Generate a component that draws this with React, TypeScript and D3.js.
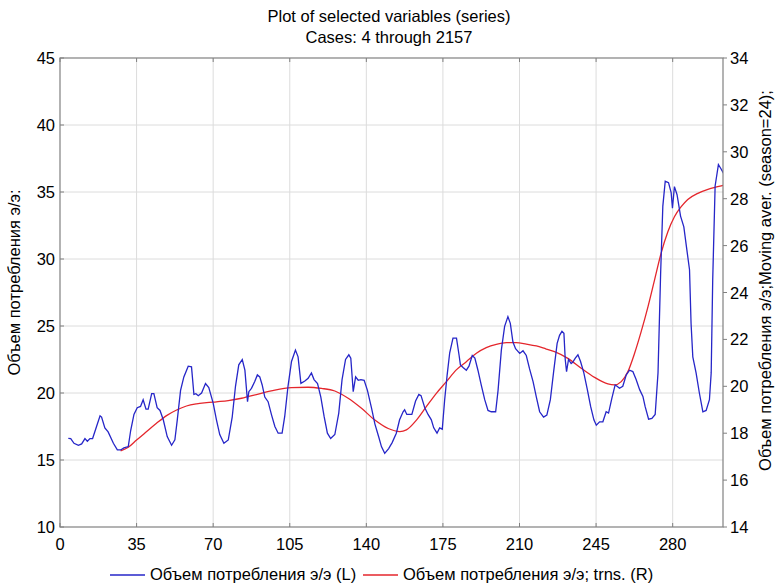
import React from "react";
import * as d3 from "d3";

const titleLines = ["Plot of selected variables (series)", "Cases: 4 through 2157"];
const leftLabel = "Объем потребления э/э:";
const rightLabel = "Объем потребления э/э;Moving aver. (season=24);";
const legendLabels = ["Объем потребления э/э (L)", "Объем потребления э/э; trns. (R)"];

const xTicks = [0, 35, 70, 105, 140, 175, 210, 245, 280];
const leftTicks = [10, 15, 20, 25, 30, 35, 40, 45];
const rightTicks = [14, 16, 18, 20, 22, 24, 26, 28, 30, 32, 34];

const blueCase = [3.8,4.9,6.4,8.4,9.9,11.4,12.5,13.7,14.9,16.7,18.3,19,20.5,22,24.4,26.2,27.7,29.2,31.2,32.3,33.8,35.3,36.8,38,39.3,40.3,41.9,42.9,44.4,45.7,47.2,49,51,52.5,53.6,55.1,56.6,58.6,60.1,61.2,62.1,63.2,64.7,66.5,68,70,71.5,73,74.9,76.9,78.7,80.2,81.7,83.3,84.5,85.7,86.3,87.5,89,90.2,91.3,92.4,93.6,95.1,96.7,98.2,99.7,101.5,102.7,104.2,105.8,107.6,108.8,110.1,111.9,113.4,114.9,116.1,117.7,119.2,120.7,122.2,123.7,125.6,127.4,128.9,130.5,132,132.9,134,135.1,136.3,137.5,139,140.5,142.4,143.9,145.7,146.9,148.4,150.2,151.8,153.7,155.2,156.8,157.5,158.5,160.8,162.5,164,165,166.7,168.2,169.7,170.8,172.3,173.5,174.7,175.8,176.9,178.1,179.6,181.2,182.4,183,184.2,185.7,186.9,188.4,189.6,191,192.5,194.1,195.6,197.1,199.1,200.2,201.7,203.2,204.7,205.8,207,208.2,210.1,211.6,213.1,214.6,216.2,217.7,219.2,221,222.5,224.1,225.6,227.2,228.3,229.4,230.3,230.9,231.5,232.4,233.6,234.4,235.5,236.7,237.9,239.4,241,242.5,244,245.1,246.6,248.1,249.6,250.7,252.2,253.7,254.6,255.7,257.2,258.8,260.3,261.8,263.3,264.9,266.4,267.4,269,270.5,272,273.3,274.5,275.5,276.6,278.1,279.3,279.9,280.8,282,283.6,285.1,286.3,287.7,288.4,289.2,290.7,292.2,293.8,295.3,296.8,297.6,298.3,299.4,300.9,302.2,303.2];
const blueValue = [16.62,16.6,16.25,16.1,16.2,16.6,16.4,16.6,16.6,17.5,18.3,18.2,17.4,17.1,16.25,15.75,15.75,15.9,16.0,17.2,18.4,18.9,19.0,19.5,18.8,18.8,19.95,19.95,18.9,18.7,18.0,16.75,16.1,16.5,18.0,20.2,21.2,22.0,21.95,19.9,19.95,19.8,20.0,20.7,20.4,19.25,18.0,16.9,16.25,16.5,18.2,20.5,22.1,22.5,21.7,19.35,20.1,20.35,20.85,21.35,21.2,20.6,19.7,19.35,18.35,17.5,17.0,17.0,18.25,20.5,22.35,23.2,22.7,20.72,20.9,21.1,21.5,21.0,20.7,19.7,18.25,17.0,16.6,16.9,18.5,21.0,22.5,22.85,22.6,20.1,21.2,20.95,21.0,20.95,20.2,18.85,17.7,16.7,16.0,15.5,15.85,16.3,17.0,18.0,18.6,18.75,18.4,18.4,19.4,19.9,19.8,18.9,18.4,18.0,17.4,17.0,17.4,17.3,19.5,21.3,23.0,24.1,24.1,22.8,22.1,21.9,21.7,22.0,22.8,22.6,21.7,20.6,19.5,18.7,18.6,18.6,20.2,23.2,24.97,25.7,25.2,23.8,23.3,22.95,23.15,22.8,21.8,20.85,19.7,18.6,18.2,18.35,19.5,21.6,23.7,24.3,24.6,24.45,22.5,21.6,22.5,22.2,22.3,22.6,22.85,22.35,21.5,20.25,19.0,18.0,17.6,17.85,17.85,18.6,18.5,19.6,20.6,20.5,20.35,20.5,21.35,21.7,21.6,21.0,20.25,19.75,19.0,18.05,18.1,18.4,21.5,28.95,33.95,35.8,35.7,34.95,33.8,35.4,34.8,33.2,32.4,30.9,29.2,25.2,22.7,21.5,20.0,18.6,18.7,19.5,21.5,28.45,35.45,37.05,36.7,36.4];

const redCase = [27.7,31.2,35,39.6,44.1,48.7,53.3,57.8,62.4,67,71.5,76.9,83,90.6,98.2,105.8,113.4,119.5,125.6,131.7,137.8,143.9,150,155.3,158.3,162.9,167.4,172,176.6,181.1,185.7,190.3,194.8,199.4,204,208.5,213.1,217.7,222.2,226,232.1,238.2,244.3,250.4,253.4,256.5,259.5,262.6,265.6,268.7,271.7,274.7,277.8,280.8,283.9,286.9,291.5,296.1,300.6,303.2];
const redValue = [17.25,17.4,17.71,18.07,18.42,18.75,18.99,19.16,19.25,19.3,19.34,19.39,19.49,19.67,19.84,19.94,19.96,19.91,19.8,19.49,19.06,18.56,18.2,18.07,18.14,18.56,19.13,19.7,20.2,20.7,21.05,21.41,21.65,21.79,21.86,21.86,21.8,21.72,21.59,21.48,21.19,20.77,20.38,20.1,20.06,20.2,20.62,21.41,22.33,23.39,24.53,25.67,26.59,27.23,27.66,27.97,28.23,28.4,28.51,28.57];

const W = 778, H = 585;
const L = 60, R = 723, T = 58, B = 527;
const FONT = "'Liberation Sans', Arial, sans-serif";
const FS = 16.5;
const BLUE = "#2626c8";
const RED = "#e4262c";
const GRID = "#dcdcdc";
const FRAME = "#808080";

export default function App() {
  const x = d3.scaleLinear().domain([0, 303]).range([L, R]);
  const yL = d3.scaleLinear().domain([10, 45]).range([B, T]);
  const yR = d3.scaleLinear().domain([14, 34]).range([B, T]);

  const blueLine = d3.line<number>().x((d, i) => x(blueCase[i])).y((d) => yL(d)).curve(d3.curveLinear);
  const redLine = d3.line<number>().x((d, i) => x(redCase[i])).y((d) => yR(d)).curve(d3.curveMonotoneX);

  return (
    <svg width={W} height={H} style={{ position: "absolute", left: 0, top: 0, background: "#fff" }} fontFamily={FONT}>
      <rect x={0} y={0} width={W} height={H} fill="#fff" />
      <defs>
        <clipPath id="plot">
          <rect x={L} y={T} width={R - L} height={B - T} />
        </clipPath>
      </defs>
      {titleLines.map((t, i) => (
        <text key={t} x={389} y={22 + i * 21} textAnchor="middle" fontSize={FS} fill="#000">{t}</text>
      ))}
      {xTicks.slice(1).map((v) => (
        <line key={"gx" + v} x1={x(v)} x2={x(v)} y1={T} y2={B} stroke={GRID} strokeWidth={1} />
      ))}
      {leftTicks.slice(1, -1).map((v) => (
        <line key={"gy" + v} x1={L} x2={R} y1={yL(v)} y2={yL(v)} stroke={GRID} strokeWidth={1} />
      ))}
      <g clipPath="url(#plot)">
        <path d={redLine(redValue) || ""} fill="none" stroke={RED} strokeWidth={1.3} />
        <path d={blueLine(blueValue) || ""} fill="none" stroke={BLUE} strokeWidth={1.3} />
      </g>
      <rect x={L} y={T} width={R - L} height={B - T} fill="none" stroke={FRAME} strokeWidth={1.2} />
      {xTicks.map((v) => (
        <g key={"xt" + v}>
          <line x1={x(v)} x2={x(v)} y1={B} y2={B - 4} stroke={FRAME} />
          <line x1={x(v)} x2={x(v)} y1={T} y2={T + 4} stroke={FRAME} />
          <text x={x(v)} y={B + 23} textAnchor="middle" fontSize={FS} fill="#000">{v}</text>
        </g>
      ))}
      {leftTicks.map((v) => (
        <g key={"lt" + v}>
          <line x1={L} x2={L + 4} y1={yL(v)} y2={yL(v)} stroke={FRAME} />
          <text x={55} y={yL(v) + 6} textAnchor="end" fontSize={FS} fill="#000">{v}</text>
        </g>
      ))}
      {rightTicks.map((v) => (
        <g key={"rt" + v}>
          <line x1={R} x2={R + 4} y1={yR(v)} y2={yR(v)} stroke={FRAME} />
          <text x={730} y={yR(v) + 6} textAnchor="start" fontSize={FS} fill="#000">{v}</text>
        </g>
      ))}
      <text transform={`translate(20,${(T + B) / 2 - 10}) rotate(-90)`} textAnchor="middle" fontSize={FS} fill="#000">{leftLabel}</text>
      <text transform={`translate(771,${(T + B) / 2 - 12}) rotate(-90)`} textAnchor="middle" fontSize={FS} fill="#000">{rightLabel}</text>
      <line x1={110} x2={145} y1={575} y2={575} stroke={BLUE} strokeWidth={1.3} />
      <text x={150} y={580} fontSize={FS} fill="#000">{legendLabels[0]}</text>
      <line x1={363} x2={398} y1={575} y2={575} stroke={RED} strokeWidth={1.3} />
      <text x={403} y={580} fontSize={FS} fill="#000">{legendLabels[1]}</text>
    </svg>
  );
}
